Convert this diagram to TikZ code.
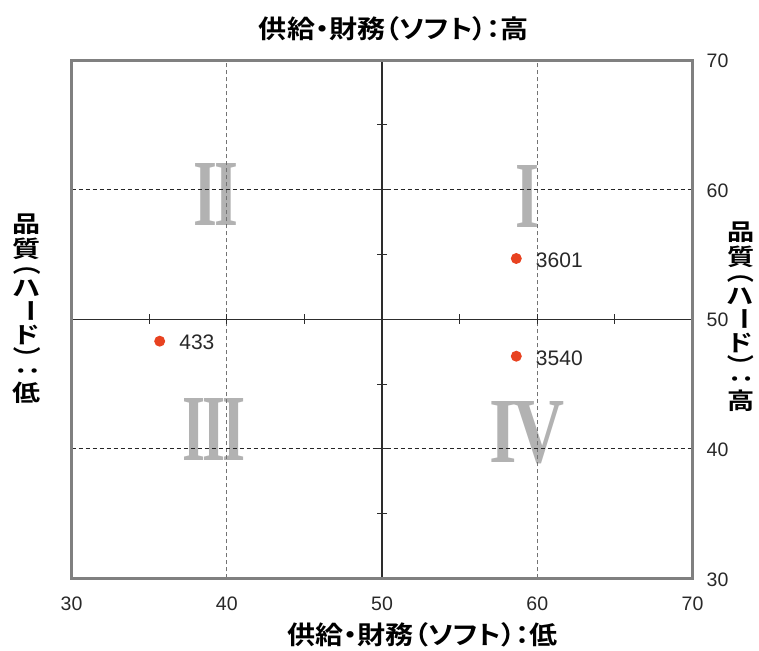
\documentclass[tikz,border=0pt]{standalone}
\usepackage{fontspec}
\setmainfont{Liberation Sans}
\newfontfamily\jpfont[RawFeature=+palt,BoldFont={Noto Sans CJK JP Bold}]{Noto Sans CJK JP}
\newfontfamily\romfont{Liberation Serif}
\definecolor{framegray}{RGB}{128,128,128}
\definecolor{axisdark}{RGB}{45,45,45}
\definecolor{numgray}{RGB}{178,178,178}
\definecolor{dotred}{RGB}{232,66,32}
\definecolor{txtdark}{RGB}{40,40,40}
\newcommand{\vrotch}[1]{\rotatebox[origin=c]{-90}{#1}}
\begin{document}
\begin{tikzpicture}[x=15.525pt,y=12.96pt,
  roman/.style={inner sep=0pt, text=numgray, font=\romfont\bfseries},
  gridv/.style={draw=black!55, line width=0.7pt, dash pattern=on 4pt off 3pt},
  gridh/.style={draw=black!85, line width=0.9pt, dash pattern=on 4pt off 3pt},
  axisline/.style={draw=axisdark, line width=1.3pt},
  frameline/.style={draw=framegray, line width=3pt},
  tickmark/.style={draw=axisdark, line width=1pt},
  dot/.style={circle, fill=dotred, inner sep=0pt, minimum size=11pt},
  datalbl/.style={anchor=west, inner sep=0pt, text=txtdark, font=\fontsize{21pt}{25pt}\selectfont},
  ticklbl/.style={inner sep=0pt, text=txtdark, font=\fontsize{19.5pt}{23pt}\selectfont},
  titlelbl/.style={inner sep=0pt, font=\jpfont\bfseries\fontsize{25.5pt}{30pt}\selectfont},
  vtitlelbl/.style={inner sep=0pt, align=center, font=\jpfont\bfseries\fontsize{23pt}{26pt}\selectfont}]
\useasboundingbox (25.394,24.406) rectangle (74.284,74.637);
% quadrant numerals
\node[roman] (rI)   at (59.40,59.51) {\resizebox{24pt}{62pt}{I}};
\node[roman] (rII)  at (39.28,59.59) {\resizebox{45pt}{62pt}{I\kern-0.045em I}};
\node[roman] (rIII) at (39.18,41.46) {\resizebox{64pt}{62pt}{I\kern-0.045em I\kern-0.045em I}};
\node[roman] (rIV)  at (59.37,41.27) {\resizebox{75pt}{61pt}{I\kern-0.05em V}};
% dashed grid
\draw[gridv] (40,30) -- (40,70);
\draw[gridv] (60,30) -- (60,70);
\draw[gridh] (30,40) -- (70,40);
\draw[gridh] (30,60) -- (70,60);
% centre axes
\draw[axisline] (30,50) -- (70,50);
\draw[axisline] (50,30) -- (50,70);
\foreach \t in {30,35,40,45,55,60,65,70}{
  \draw[tickmark] ([yshift=5pt]\t,50) -- ([yshift=-5pt]\t,50);
  \draw[tickmark] ([xshift=5pt]50,\t) -- ([xshift=-5pt]50,\t);
}
% frame
\draw[frameline] (30,30) rectangle (70,70);
% tick labels
\foreach \t in {30,40,50,60,70}{
  \node[ticklbl] (bx\t) at ([yshift=-25pt]\t,30) {\t};
  \node[ticklbl, anchor=west] (ry\t) at ([xshift=14pt,yshift=-1pt]70,\t) {\t};
}
% data points
\node[dot] (p433)  at (35.68,48.31) {};
\node[dot] (p3601) at (58.65,54.69) {};
\node[dot] (p3540) at (58.65,47.15) {};
\node[datalbl] (l433)  at ([xshift=19.5pt,yshift=-1.5pt]p433.center)  {433};
\node[datalbl] (l3601) at ([xshift=19.5pt,yshift=-2pt]p3601.center) {3601};
\node[datalbl] (l3540) at ([xshift=19.5pt,yshift=-2pt]p3540.center) {3540};
% axis titles
\node[titlelbl] (ttop) at (50.77,72.40) {\scalebox{1.1}[1]{供給・財務（ソフト）：高}};
\node[titlelbl] (tbot) at (52.61,25.64) {\scalebox{1.1}[1]{供給・財務（ソフト）：低}};
\node[vtitlelbl] (tleft) at (27.13,50.80) {\scalebox{1.22}[1]{\shortstack{品\\質\\\vrotch{（}\\ハ\\\vrotch{ー}\\ド\\\vrotch{）}\\\vrotch{：}\\低}}};
\node[vtitlelbl] (tright) at (73.10,50.18) {\scalebox{1.18}[1]{\shortstack{品\\質\\\vrotch{（}\\ハ\\\vrotch{ー}\\ド\\\vrotch{）}\\\vrotch{：}\\高}}};
\end{tikzpicture}
\end{document}
